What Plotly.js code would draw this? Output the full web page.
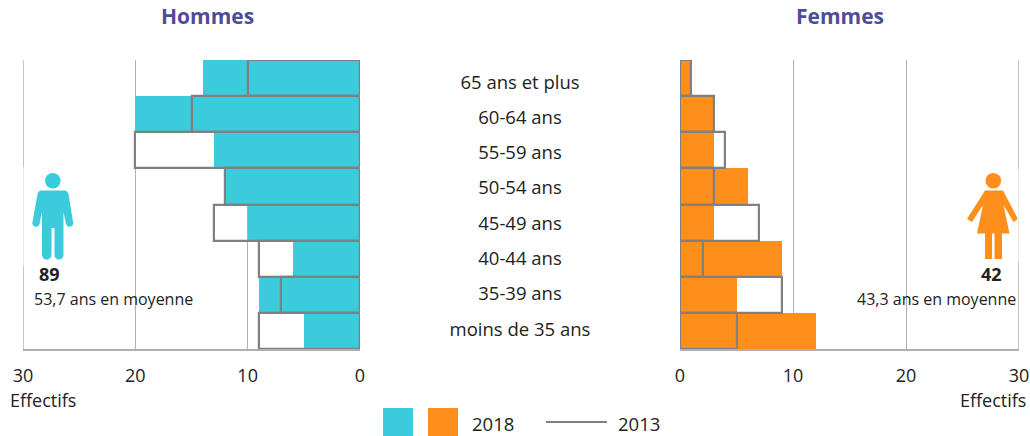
<!DOCTYPE html>
<html>
<head>
<meta charset="utf-8">
<script src="https://cdn.plot.ly/plotly-3.0.1.min.js"></script>
<style>html,body{margin:0;padding:0;background:#fff}</style>
</head>
<body>
<div id="chart" style="width:1030px;height:436px"></div>
<script>
const categories = ["65 ans et plus","60-64 ans","55-59 ans","50-54 ans","45-49 ans","40-44 ans","35-39 ans","moins de 35 ans"];
const hommes2018 = [14,20,13,12,10,6,9,5];
const hommes2013 = [10,15,20,12,13,9,7,9];
const femmes2018 = [1,3,3,6,3,9,5,12];
const femmes2013 = [1,3,4,3,7,2,9,5];
const ticks = [0,10,20,30];

const W = 1030, H = 436;
const px = v => v / W, py = v => 1 - v / H;
const FONT = '"Open Sans", sans-serif';
const TXT = '#222222', TEAL = '#3BCBDC', ORANGE = '#FF8F1C', LINE = '#808080', GRID = '#B0B0B0';

const fill = (x, y, name, color, xa, ya) => ({type:'bar', orientation:'h', x, y, name, xaxis:xa, yaxis:ya,
  marker:{color, line:{width:0}}, hoverinfo:'x+y'});
const outline = (x, y, name, xa, ya) => ({type:'bar', orientation:'h', x, y, name, xaxis:xa, yaxis:ya,
  marker:{color:'rgba(0,0,0,0)', line:{color:LINE, width:2.2}}, hoverinfo:'x+y'});

const traces = [
  fill(hommes2018, categories, 'Hommes 2018', TEAL, 'x', 'y'),
  outline(hommes2013, categories, 'Hommes 2013', 'x', 'y'),
  fill(femmes2018, categories, 'Femmes 2018', ORANGE, 'x2', 'y2'),
  outline(femmes2013, categories, 'Femmes 2013', 'x2', 'y2'),
  {type:'scatter', mode:'text', x:categories.map(() => 0), y:categories, text:categories,
   textposition:'middle center', textfont:{family:FONT, size:18.5, color:TXT},
   xaxis:'x3', yaxis:'y3', hoverinfo:'skip'}
];

const xAxisBase = {
  tickmode:'array', tickvals:ticks, ticktext:ticks.map(String), ticks:'',
  tickfont:{family:FONT, size:18, color:TXT}, ticklabelstandoff:9,
  showgrid:true, gridcolor:GRID, gridwidth:1.2, zeroline:false,
  showline:true, linecolor:GRID, linewidth:2, fixedrange:true
};
const yAxisBase = {type:'category', categoryorder:'array', categoryarray:categories, autorange:false, range:[7.5,-0.5],
  showticklabels:false, ticks:'', showgrid:false, zeroline:false, showline:false, fixedrange:true};

const label = (text, x, y, size, extra) => Object.assign({
  text, xref:'paper', yref:'paper', x:px(x), y:py(y), showarrow:false, xanchor:'center', yanchor:'middle',
  font:{family:FONT, size, color:TXT}, borderpad:0
}, extra || {});

const icons = `<svg xmlns="http://www.w3.org/2000/svg" viewBox="0 0 ${W} ${H}" width="${W}" height="${H}">
<g fill="${TEAL}">
<circle cx="52.8" cy="180.7" r="7.8"/>
<path d="M41 190.5 H64.5 Q67.5 190.5 68.5 194 L73 222 A3.6 3.6 0 0 1 66 224 L63.5 212 V255 A4 4 0 0 1 54.5 255 V228 H51.5 V255 A4 4 0 0 1 42 255 V212 L39.5 224 A3.6 3.6 0 0 1 32.5 222 L37.5 194 Q38.5 190.5 41 190.5 Z"/>
</g>
<g fill="${ORANGE}">
<circle cx="993.3" cy="180.7" r="7.8"/>
<path d="M985 190.5 H1003 L1018 219 L1013.5 222 L1003.5 205 L1009.5 233.5 H1002 V259 H994.5 V233.5 H992 V259 H985 V233.5 H977 L983 205 L972 222 L967 219 Z"/>
</g>
</svg>`;

const edge = (xa, v) => ({type:'line', xref:xa, yref:'paper', x0:v, x1:v, y0:py(349), y1:py(60), line:{color:GRID, width:1.5}, layer:'below'});

const layout = {
  width:W, height:H, autosize:false, showlegend:false, bargap:0, barmode:'overlay',
  margin:{l:0, r:0, t:0, b:0, pad:0}, paper_bgcolor:'#fff', plot_bgcolor:'rgba(0,0,0,0)',
  font:{family:FONT, color:TXT},
  xaxis:Object.assign({}, xAxisBase, {domain:[px(23), px(360)], range:[30,0], anchor:'y'}),
  xaxis2:Object.assign({}, xAxisBase, {domain:[px(680), px(1019)], range:[0,30], anchor:'y2'}),
  xaxis3:{domain:[px(420), px(620)], range:[-1,1], visible:false, anchor:'y3', fixedrange:true},
  yaxis:Object.assign({}, yAxisBase, {domain:[py(349), py(60)], anchor:'x'}),
  yaxis2:Object.assign({}, yAxisBase, {domain:[py(349), py(60)], anchor:'x2'}),
  yaxis3:Object.assign({}, yAxisBase, {domain:[py(348.6), py(66.4)], anchor:'x3', visible:false}),
  images:[{source:'data:image/svg+xml;charset=utf-8,' + encodeURIComponent(icons), xref:'paper', yref:'paper',
    x:0, y:1, sizex:1, sizey:1, xanchor:'left', yanchor:'top', sizing:'stretch', layer:'above'}],
  shapes:[
    edge('x', 30), edge('x2', 30),
    {type:'rect', xref:'paper', yref:'paper', x0:px(21), x1:px(26), y0:py(266), y1:py(167), fillcolor:'rgba(255,255,255,0.6)', line:{width:0}, layer:'above'},
    {type:'rect', xref:'paper', yref:'paper', x0:px(1017), x1:px(1021), y0:py(262), y1:py(169), fillcolor:'rgba(255,255,255,0.6)', line:{width:0}, layer:'above'},
    {type:'rect', xref:'paper', yref:'paper', x0:px(383), x1:px(413), y0:py(436), y1:py(408), fillcolor:TEAL, line:{width:0}},
    {type:'rect', xref:'paper', yref:'paper', x0:px(428), x1:px(458), y0:py(436), y1:py(408), fillcolor:ORANGE, line:{width:0}},
    {type:'line', xref:'paper', yref:'paper', x0:px(546), x1:px(607), y0:py(422), y1:py(422), line:{color:LINE, width:2}}
  ],
  annotations:[
    label('<b>Hommes</b>', 207.5, 16, 21, {font:{family:FONT, size:21, color:'#4D4D96'}}),
    label('<b>Femmes</b>', 840, 16, 21, {font:{family:FONT, size:21, color:'#4D4D96'}}),
    label('<b>89</b>', 49.5, 274, 18),
    label('53,7 ans en moyenne', 113, 299, 16),
    label('<b>42</b>', 991.5, 274, 18),
    label('43,3 ans en moyenne', 936.5, 299, 16),
    label('Effectifs', 43, 400, 18),
    label('Effectifs', 993, 400, 18),
    label('2018', 493, 423, 18.5),
    label('2013', 638.5, 423, 18.5)
  ]
};
Plotly.newPlot('chart', traces, layout, {displayModeBar:false, responsive:false});
</script>
</body>
</html>
